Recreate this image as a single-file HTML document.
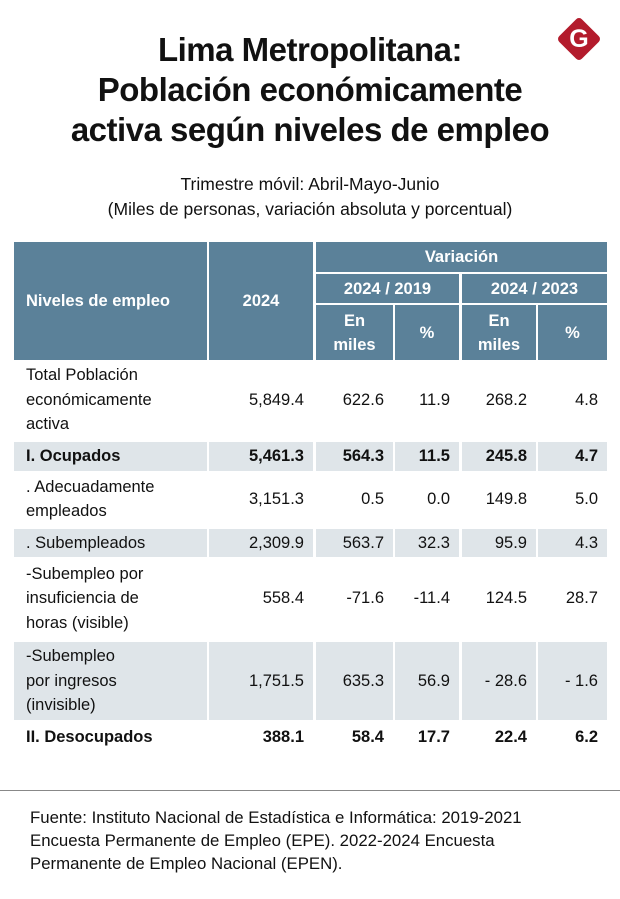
<!DOCTYPE html>
<html><head><meta charset="utf-8"><style>
body{margin:0;width:620px;height:899px;background:#fff;position:relative;overflow:hidden;font-family:"Liberation Sans",sans-serif;color:#111}
.a{position:absolute}
.t{left:0;width:620px;text-align:center;font-weight:bold;font-size:33px;line-height:40px;top:30px;letter-spacing:-0.5px}
.sub{left:0;width:620px;text-align:center;font-size:17.5px;line-height:25px;top:172px}
.h{background:#5b8199;color:#fff;font-weight:bold;font-size:16.5px;display:flex;align-items:center;justify-content:center;text-align:center;line-height:24px}
.c{display:flex;align-items:center;font-size:16.5px;line-height:24.5px;box-sizing:border-box}
.g{background:#dfe5e9}
.b{font-weight:bold}
.r{justify-content:flex-end;padding-right:9px}
.l{padding-left:12px}
.src{left:30px;top:806px;font-size:16.8px;line-height:23px;width:540px}
</style></head><body>
<div class="a t">Lima Metropolitana:<br>Población económicamente<br>activa según niveles de empleo</div>
<div class="a" style="left:563px;top:23px;width:32px;height:32px;background:#b31b2c;transform:rotate(45deg);border-radius:4px"></div>
<div class="a" style="left:563px;top:23px;width:32px;text-align:center;color:#fff;font-weight:bold;font-size:25px;line-height:32px">G</div>
<div class="a sub">Trimestre móvil: Abril-Mayo-Junio<br>(Miles de personas, variación absoluta y porcentual)</div>
<div id="tbl"></div>
<div class="a" style="left:0;top:790px;width:620px;height:1px;background:#888"></div>
<div class="a src">Fuente: Instituto Nacional de Estadística e Informática: 2019-2021<br>Encuesta Permanente de Empleo (EPE). 2022-2024 Encuesta<br>Permanente de Empleo Nacional (EPEN).</div>
<script>
const labels=["Total Población<br>económicamente<br>activa","I. Ocupados",". Adecuadamente<br>empleados",". Subempleados","-Subempleo por<br>insuficiencia de<br>horas (visible)","-Subempleo<br>por ingresos<br>(invisible)","II. Desocupados"];
const v2024=["5,849.4","5,461.3","3,151.3","2,309.9","558.4","1,751.5","388.1"];
const var19=["622.6","564.3","0.5","563.7","-71.6","635.3","58.4"];
const pct19=["11.9","11.5","0.0","32.3","-11.4","56.9","17.7"];
const var23=["268.2","245.8","149.8","95.9","124.5","- 28.6","22.4"];
const pct23=["4.8","4.7","5.0","4.3","28.7","- 1.6","6.2"];
const bold=[0,1,0,0,0,0,1];
const cols=[[14,193],[209,104],[316,77],[395,64],[462,74],[538,69]];
const rowsY=[[360,80],[442,29],[471,56],[529,28],[557,83],[642,78],[720,34]];
const shaded=[0,1,0,1,0,1,0];
const T=document.getElementById('tbl');
function cell(x,y,w,h,cls,html,name){const d=document.createElement('div');d.className='a '+cls;d.style.cssText=`left:${x}px;top:${y}px;width:${w}px;height:${h}px`;d.innerHTML=html;


T.appendChild(d);}
cell(14,242,193,118,'h','<span style="text-align:left;width:100%;padding-left:12px">Niveles de empleo</span>','header-niveles');
cell(209,242,104,118,'h','2024','header-2024');
cell(316,242,291,30,'h','Variación','header-variacion');
cell(316,274,143,29,'h','2024 / 2019','header-2024-2019');
cell(462,274,145,29,'h','2024 / 2023','header-2024-2023');
cell(316,305,77,55,'h','En<br>miles','header-en-miles-2019');
cell(395,305,64,55,'h','%','header-pct-2019');
cell(462,305,74,55,'h','En<br>miles','header-en-miles-2023');
cell(538,305,69,55,'h','%','header-pct-2023');
const series=[v2024,var19,pct19,var23,pct23];
const names=['v2024','var-2019','pct-2019','var-2023','pct-2023'];
labels.forEach((lab,i)=>{const [y,h]=rowsY[i];const g=shaded[i]?' g':'';const b=bold[i]?' b':'';
cell(cols[0][0],y,cols[0][1],h,'c l'+g+b,lab,'row-label-'+i);
series.forEach((s,j)=>{const [x,w]=cols[j+1];cell(x,y,w,h,'c r'+g+b,s[i],'cell-'+names[j]+'-'+i);});});
</script>
</body></html>
